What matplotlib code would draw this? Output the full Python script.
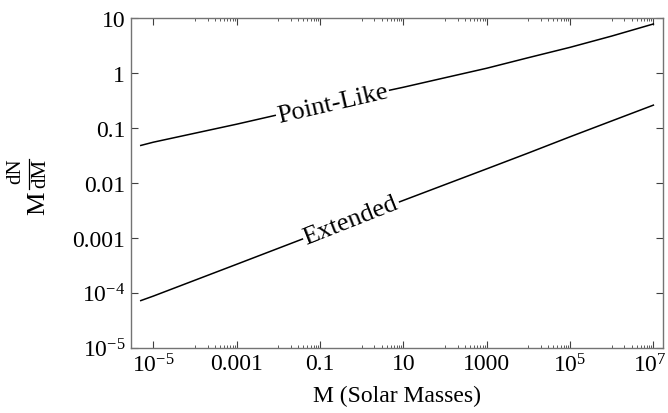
import matplotlib
matplotlib.use("Agg")
import matplotlib.pyplot as plt
import matplotlib.ticker as mticker
import matplotlib.transforms as mtransforms
import numpy as np

plt.rcParams['font.family'] = 'Liberation Serif'
plt.rcParams['mathtext.fontset'] = 'custom'
plt.rcParams['mathtext.rm'] = 'Liberation Serif'
plt.rcParams['mathtext.it'] = 'Liberation Serif:italic'

# values
mass = [5e-6, 1e-5, 1e-3, 1e-1, 1e1, 1e2, 1e3, 1e4, 1e5, 1e6, 1e7]
point_like = [0.048, 0.055, 0.117, 0.26, 0.55, 0.82, 1.22, 1.9, 2.93, 4.7, 7.8]
extended = [7.2e-5, 8.7e-5, 3.3e-4, 1.26e-3, 4.8e-3, 9.3e-3, 0.018, 0.035, 0.069, 0.134, 0.26]

xticks = [1e-5, 1e-3, 1e-1, 1e1, 1e3, 1e5, 1e7]
xlabels = [r'$10^{-5}$', '0.001', '0.1', '10', '1000', r'$10^{5}$', r'$10^{7}$']
yticks = [1e-5, 1e-4, 1e-3, 1e-2, 1e-1, 1, 10]
ylabels = [r'$10^{-5}$', r'$10^{-4}$', '0.001', '0.01', '0.1', '1', '10']

W, H = 668, 414
fig = plt.figure(figsize=(W / 100, H / 100), dpi=100)
ax = fig.add_axes([0.1957, 0.1577, 0.7968, 0.7963])

ax.plot(mass, point_like, color='black', lw=1.1)
ax.plot(mass, extended, color='black', lw=1.1)

ax.set_xscale('log')
ax.set_yscale('log')
ax.set_xlim(2.87e-6, 1.7e7)
ax.set_ylim(1e-5, 10)

# inline labels
ax.text(0.2, 0.28, 'Point-Like', rotation=13, ha='center', va='center',
        fontsize=19, rotation_mode='anchor',
        bbox=dict(facecolor='white', edgecolor='none', pad=1))
ax.text(0.55, 0.0021, 'Extended', rotation=21.5, ha='center', va='center',
        fontsize=19, rotation_mode='anchor',
        bbox=dict(facecolor='white', edgecolor='none', pad=1))

ax.xaxis.set_major_locator(mticker.FixedLocator(xticks))
ax.xaxis.set_major_formatter(mticker.FixedFormatter(xlabels))
xminor = [k * t * 10 for t in xticks[:-1] for k in range(1, 10)]
ax.xaxis.set_minor_locator(mticker.FixedLocator(xminor))
ax.xaxis.set_minor_formatter(mticker.NullFormatter())

ax.yaxis.set_major_locator(mticker.FixedLocator(yticks))
ax.yaxis.set_major_formatter(mticker.FixedFormatter(ylabels))
ax.yaxis.set_minor_locator(mticker.LogLocator(base=10, subs=np.arange(2, 10)))
ax.yaxis.set_minor_formatter(mticker.NullFormatter())

ax.tick_params(which='both', direction='in', top=True, right=True,
               labelsize=17, color='0.25')
ax.tick_params(which='major', length=5, width=0.8, pad=4)
ax.tick_params(which='minor', length=2.5, width=0.6)
for sp in ax.spines.values():
    sp.set_color('0.45')
    sp.set_linewidth(1.0)

# keep the 10^7 label inside the canvas
last = ax.get_xticklabels()[-1]
last.set_transform(last.get_transform() +
                   mtransforms.ScaledTranslation(-4 / 100, 0, fig.dpi_scale_trans))

ax.set_xlabel('M (Solar Masses)', fontsize=17, labelpad=6)

# y label: M dN/dM, built from pieces (Mathematica-style fraction)
fig.text(38 / W, 1 - 203 / H, 'M', rotation=90, ha='center', va='center', fontsize=19)
fig.text(16 / W, 1 - 171 / H, 'dN', rotation=90, ha='center', va='center', fontsize=15)
fig.text(41 / W, 1 - 173.5 / H, 'dM', rotation=90, ha='center', va='center', fontsize=15)
fig.add_artist(plt.Line2D([29 / W, 29 / W], [1 - 160 / H, 1 - 190 / H],
                          color='black', lw=0.9, transform=fig.transFigure))

fig.savefig('out.png', dpi=100)
